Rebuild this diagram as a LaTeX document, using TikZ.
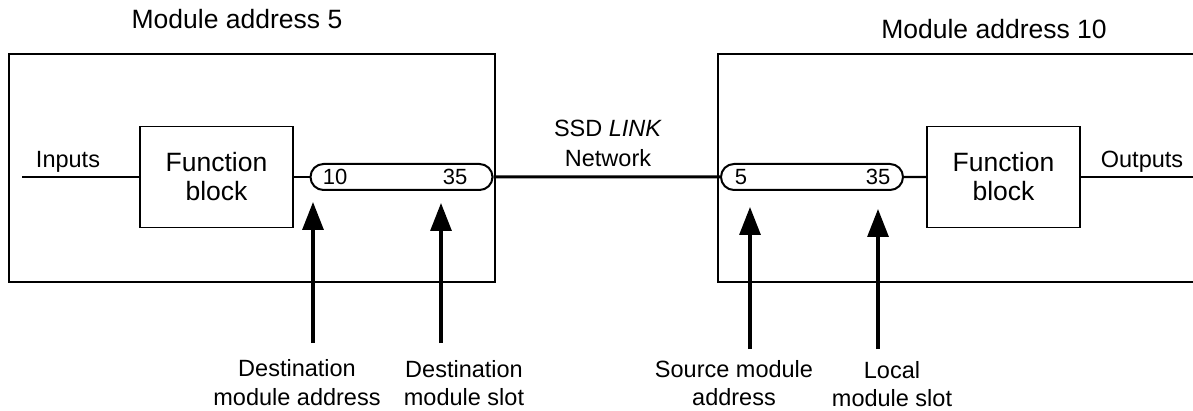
\documentclass[tikz,border=0pt]{standalone}
\usepackage{fontspec}
\setmainfont{Liberation Sans}
\usetikzlibrary{arrows.meta,shapes.misc}
\begin{document}
\begin{tikzpicture}[x=0.5pt, y=-0.5pt, thick,
  module/.style = {draw, line width=0.85pt, inner sep=0pt},
  fblock/.style = {draw, line width=0.85pt, minimum width=76.5pt, minimum height=50.5pt, inner sep=0pt, align=center, font=\fontsize{13.25}{14.5}\selectfont},
  slot/.style = {draw, rounded rectangle, line width=1pt, minimum width=91pt, minimum height=13pt, inner sep=0pt},
  ttl/.style = {inner sep=0pt, font=\fontsize{13.25}{15}\selectfont},
  lbl/.style = {inner sep=0pt, align=center, font=\fontsize{11.75}{14.25}\selectfont},
  num/.style = {inner sep=0pt, font=\fontsize{11}{13}\selectfont},
  wire/.style = {line width=1.2pt},
  pointer/.style = {line width=1.6pt, -{Triangle[width=10.5pt,length=14pt]}}]
  \useasboundingbox (0,0) rectangle (1193,411);
  % the two modules
  \node[module, minimum width=243pt, minimum height=114pt] (m5) at (252,168) {};
  \node[module, minimum width=250pt, minimum height=114pt] (m10) at (968,168) {};
  \node[ttl] (t5) at (237,19.5) {Module address 5};
  \node[ttl] (t10) at (994,29.5) {Module address 10};
  % blocks and slots
  \node[fblock] (f5) at (216.5,177) {Function\\block};
  \node[fblock] (f10) at (1003.5,177) {Function\\block};
  \node[slot] (s5) at (401.5,177) {};
  \node[slot] (s10) at (812,177) {};
  \node[num] (n1) at (335,177) {10};
  \node[num] (n2) at (455,177) {35};
  \node[num] (n3) at (741,177) {5};
  \node[num] (n4) at (878,177) {35};
  \coordinate (inp) at (22,177);
  \coordinate (outp) at (1193,177);
  \node[lbl] (in) at (68,162) {Inputs};
  \node[lbl] (out) at (1142,162) {Outputs};
  \node[lbl, font=\fontsize{11.75}{15}\selectfont] (net) at (608,143.5) {SSD \textit{LINK}\\Network};
  \draw[wire] (inp) -- (f5);
  \draw[wire] (f5) -- (s5);
  \draw[line width=1.5pt] (s5) -- (s10);
  \draw[wire] (s10) -- (f10);
  \draw[wire] (f10) -- (outp);
  % pointers from below
  \node[lbl] (l1) at (297,382.5) {Destination\\module address};
  \node[lbl] (l2) at (464,383) {Destination\\module slot};
  \node[lbl] (l3) at (734,383) {Source module\\address};
  \node[lbl] (l4) at (892,384) {Local\\module slot};
  \coordinate (a1) at (313,343); \coordinate (b1) at (313,202);
  \coordinate (a2) at (441,343); \coordinate (b2) at (441,203);
  \coordinate (a3) at (750,349); \coordinate (b3) at (750,207);
  \coordinate (a4) at (878,349); \coordinate (b4) at (878,209);
  \draw[pointer] (a1) -- (b1);
  \draw[pointer] (a2) -- (b2);
  \draw[pointer] (a3) -- (b3);
  \draw[pointer] (a4) -- (b4);
\end{tikzpicture}
\end{document}
